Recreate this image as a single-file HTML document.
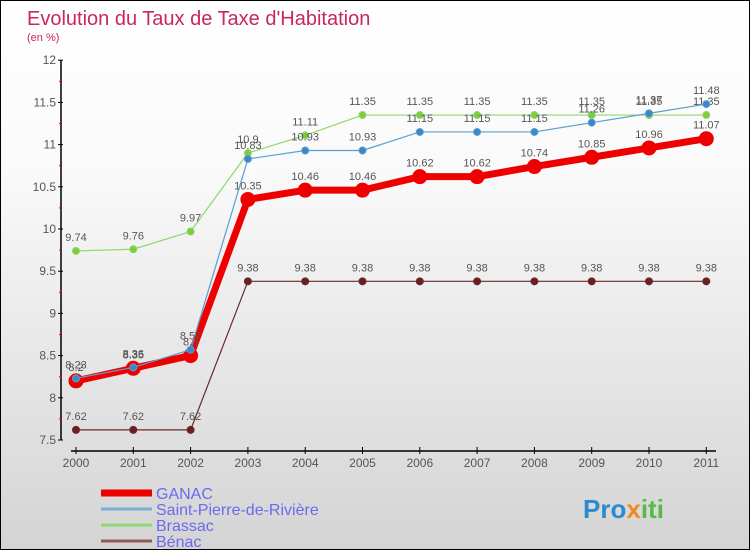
<!DOCTYPE html>
<html><head><meta charset="utf-8"><style>
body{margin:0;}
#c{width:748px;height:548px;border:1px solid #000;background:linear-gradient(#fff,#fafafa 30%,#d4d4d4);position:relative;font-family:"Liberation Sans",sans-serif;}
svg text{font-family:"Liberation Sans",sans-serif;}
</style></head><body>
<div id="c">
<svg id="s" width="748" height="548">
<text x="26" y="24" font-size="20" fill="#c8285a">Evolution du Taux de Taxe d'Habitation</text>
<text x="26" y="40" font-size="11" fill="#c8285a">(en %)</text>
</svg>
</div>
<script>
const years=[2000,2001,2002,2003,2004,2005,2006,2007,2008,2009,2010,2011];
const ganac=[8.2,8.35,8.5,10.35,10.46,10.46,10.62,10.62,10.74,10.85,10.96,11.07];
const stPierre=[8.23,8.36,8.57,10.83,10.93,10.93,11.15,11.15,11.15,11.26,11.37,11.48];
const brassac=[9.74,9.76,9.97,10.9,11.11,11.35,11.35,11.35,11.35,11.35,11.35,11.35];
const benac=[7.62,7.62,7.62,9.38,9.38,9.38,9.38,9.38,9.38,9.38,9.38,9.38];
const yTicks=[7.5,8,8.5,9,9.5,10,10.5,11,11.5,12];
const ns="http://www.w3.org/2000/svg";
const s=document.getElementById('s');
const X=i=>75+i*57.3, Y=v=>439-(v-7.5)*84.4;
function el(t,a,p){const e=document.createElementNS(ns,t);for(const k in a)e.setAttribute(k,a[k]);(p||s).appendChild(e);return e;}
const ax=el('line',{x1:60,y1:Y(12),x2:60,y2:Y(7.5),stroke:'#000','stroke-width':1.5});


yTicks.forEach(v=>{
 const t=el('line',{x1:57,x2:62,y1:Y(v),y2:Y(v),stroke:'#000'});
 
 
 if(v<12){const m=el('line',{x1:58,x2:61,y1:Y(v+0.25),y2:Y(v+0.25),stroke:'#e00'});
 
 }
 const l=el('text',{x:55,y:Y(v)+4,'font-size':12,fill:'#555','text-anchor':'end'});
 l.textContent=String(v);
 
 
});
const xa=el('line',{x1:70,x2:715,y1:450,y2:450,stroke:'#000','stroke-width':1.5});


years.forEach((y,i)=>{
 const t=el('line',{x1:X(i),x2:X(i),y1:446,y2:453,stroke:'#000'});
 
 
 const l=el('text',{x:X(i),y:466,'font-size':12,fill:'#555','text-anchor':'middle'});
 l.textContent=y;
 
 
});
function series(name,data,color,w,r,dot){
 const g=el('g',{});
 
 
 const p=el('polyline',{points:data.map((v,i)=>X(i)+','+Y(v)).join(' '),fill:'none',stroke:color,'stroke-width':w,'stroke-linejoin':'round'},g);
 
 
 data.forEach((v,i)=>{
  const c=el('circle',{cx:X(i),cy:Y(v),r:r,fill:dot,stroke:color,'stroke-width':1},g);
  
  
  const t=el('text',{x:X(i),y:Y(v)-10,'font-size':11,fill:'#555','text-anchor':'middle'},g);
  t.textContent=String(v);
  
  
 });
}
series('benac',benac,'#6b2a2a',1.2,3.5,'#6b2020');
series('brassac',brassac,'#8fd86a',1.2,3.5,'#7ccc3c');
series('ganac',ganac,'#ee0000',7,7,'#ee0000');
series('saint-pierre',stPierre,'#5a9fd0',1.2,3.5,'#3a88c8');
const leg=[['GANAC','#ee0000',7],['Saint-Pierre-de-Rivière','#7aaed8',3],['Brassac','#90d870',3],['Bénac','#8e5a5a',3]];
leg.forEach((L,i)=>{
 const y=492+i*16;
 const ln=el('line',{x1:100,x2:151,y1:y,y2:y,stroke:L[1],'stroke-width':L[2]});
 
 
 const t=el('text',{x:155,y:y+6,'font-size':16,fill:'#6a6af0'});
 t.textContent=L[0];
 
 
});
const lg=el('text',{x:582,y:517,'font-size':26,'font-weight':'bold',fill:'#2a8ad0'});


[['Pro','#2a8ad0'],['x','#f08a20'],['iti','#5ab848']].forEach(p=>{const ts=el('tspan',{fill:p[1]},lg);ts.textContent=p[0];});
</script>
</body></html>
